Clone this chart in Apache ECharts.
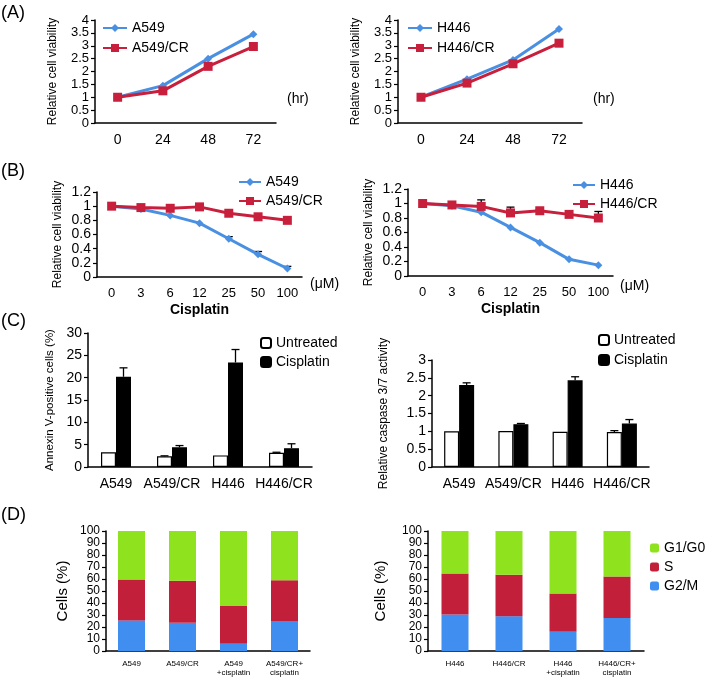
<!DOCTYPE html>
<html>
<head>
<meta charset="utf-8">
<script src="https://cdn.jsdelivr.net/npm/echarts@6/dist/echarts.min.js"></script>
<style>
  html, body { margin: 0; padding: 0; background: #fff; }
  #myChart { width: 709px; height: 677px; }
</style>
</head>
<body>
<div id="myChart"></div>
<script>
// ---- data ----
let hours = ['0', '24', '48', '72']
let a549Growth = [1, 1.45, 2.5, 3.45]
let a549CrGrowth = [1, 1.25, 2.2, 2.97]
let h446Growth = [1, 1.7, 2.45, 3.65]
let h446CrGrowth = [1, 1.55, 2.3, 3.1]

let doses = ['0', '3', '6', '12', '25', '50', '100']
let a549Dose = [1, 0.96, 0.87, 0.76, 0.54, 0.32, 0.12]
let a549DoseErr = [null, null, null, null, 0.57, 0.36, 0.15]
let a549CrDose = [1, 0.98, 0.97, 0.99, 0.9, 0.85, 0.8]
let h446Dose = [1, 0.97, 0.88, 0.67, 0.46, 0.23, 0.15]
let h446CrDose = [1, 0.98, 0.96, 0.87, 0.9, 0.85, 0.8]
let h446CrDoseErr = [null, null, 1.05, 0.95, 0.92, null, 0.89]

let cellLines = ['A549', 'A549/CR', 'H446', 'H446/CR']
let annexinUntreated = [3.3, 2.4, 2.6, 3.2]
let annexinUntreatedErr = [null, 2.5, null, 3.3]
let annexinCisplatin = [20.2, 4.4, 23.4, 4.2]
let annexinCisplatinErr = [22.2, 4.8, 26.3, 5.2]
let caspUntreated = [1.0, 1.01, 0.99, 0.98]
let caspUntreatedErr = [null, null, null, 1.02]
let caspCisplatin = [2.3, 1.2, 2.43, 1.22]
let caspCisplatinErr = [2.36, 1.22, 2.53, 1.33]

let a549Groups = ['A549', 'A549/CR', 'A549\n+cisplatin', 'A549/CR+\ncisplatin']
let h446Groups = ['H446', 'H446/CR', 'H446\n+cisplatin', 'H446/CR+\ncisplatin']
let a549G2M = [25.5, 23.5, 6, 25]
let a549S = [34, 35, 31.5, 34]
let a549G1 = [40.5, 41.5, 62.5, 41]
let h446G2M = [30.5, 29, 16, 27.5]
let h446S = [34, 34.5, 32, 34.5]
let h446G1 = [35.5, 36.5, 52, 38]

// ---- styles ----
const FONT = 'Liberation Sans, Arial, sans-serif'
const BLUE = '#4a90e2'
const RED = '#c8203c'

let myChart = echarts.init(document.getElementById('myChart'))

function xCat(gi, data, fontSize, extra) {
    return Object.assign({
        type: 'category', gridIndex: gi, data: data,
        axisLine: { lineStyle: { color: '#000', width: 1.5 } },
        axisTick: { length: 4, lineStyle: { color: '#000', width: 1.2 } },
        axisLabel: { color: '#000', fontSize: fontSize, fontFamily: FONT, margin: 10, interval: 0 }
    }, extra || {})
}
function yVal(gi, max, interval, name, nameGap, nameSize, fontSize) {
    return {
        type: 'value', gridIndex: gi, min: 0, max: max, interval: interval,
        name: name, nameLocation: 'middle', nameGap: nameGap,
        nameTextStyle: { color: '#000', fontSize: nameSize, fontFamily: FONT },
        axisLine: { show: true, lineStyle: { color: '#000', width: 1.5 } },
        axisTick: { show: true, length: 4, lineStyle: { color: '#000', width: 1.2 } },
        axisLabel: {
            color: '#000', fontSize: fontSize, fontFamily: FONT, margin: 6,
            showMinLabel: true, showMaxLabel: true, hideOverlap: false
        },
        splitLine: { show: false }
    }
}
function lineSeries(name, gi, data, color, symbol, size) {
    return {
        name: name, type: 'line', xAxisIndex: gi, yAxisIndex: gi, data: data,
        symbol: symbol, symbolSize: size, color: color,
        lineStyle: { width: 3, color: color }, itemStyle: { color: color }, z: 3
    }
}
// 只画向上的误差线
function errSeries(gi, values, tops, offset) {
    let d = []
    tops.forEach((t, i) => { if (t != null) d.push([i, values[i], t]) })
    return {
        type: 'custom', xAxisIndex: gi, yAxisIndex: gi, data: d, z: 2,
        renderItem: function (params, api) {
            let p0 = api.coord([api.value(0), api.value(1)])
            let p1 = api.coord([api.value(0), api.value(2)])
            let cx = p0[0] + offset
            let st = { stroke: '#000', lineWidth: 1.3 }
            return {
                type: 'group', children: [
                    { type: 'line', shape: { x1: cx, y1: p0[1], x2: cx, y2: p1[1] }, style: st },
                    { type: 'line', shape: { x1: cx - 4, y1: p1[1], x2: cx + 4, y2: p1[1] }, style: st }
                ]
            }
        }
    }
}
function bar(name, gi, data, color, extra) {
    return Object.assign({
        name: name, type: 'bar', xAxisIndex: gi, yAxisIndex: gi, data: data,
        barWidth: 15, barGap: '0%',
        itemStyle: { color: color, borderColor: '#000', borderWidth: 1.2 }
    }, extra || {})
}
function stack(name, gi, data, color, st) {
    return {
        name: name, type: 'bar', xAxisIndex: gi, yAxisIndex: gi, data: data,
        stack: st, barWidth: 27, itemStyle: { color: color }
    }
}
function legend(left, top, names, w, h, gap, size) {
    return {
        left: left, top: top, orient: 'vertical', data: names, selectedMode: false,
        itemWidth: w, itemHeight: h, itemGap: gap,
        textStyle: { color: '#000', fontSize: size, fontFamily: FONT }
    }
}
function label(text, x, y, size, weight) {
    return { type: 'text', left: x, top: y, style: { text: text, fontSize: size, fontFamily: FONT, fontWeight: weight || 'normal', fill: '#000' } }
}

let option = {
    animation: false,
    grid: [
        { left: 95, top: 20, width: 181, height: 103 },
        { left: 398, top: 20, width: 184, height: 103 },
        { left: 97, top: 192, width: 205, height: 85 },
        { left: 408, top: 189, width: 205, height: 87 },
        { left: 88, top: 333, width: 224, height: 134 },
        { left: 432, top: 360, width: 217, height: 107 },
        { left: 106, top: 531, width: 204, height: 126 },
        { left: 428, top: 531, width: 216, height: 126 }
    ],
    xAxis: [
        xCat(0, hours, 14),
        xCat(1, hours, 14),
        xCat(2, doses, 13, { name: 'Cisplatin', nameLocation: 'middle', nameGap: 26, nameTextStyle: { fontSize: 14, fontWeight: 'bold', fontFamily: FONT, color: '#000' } }),
        xCat(3, doses, 13, { name: 'Cisplatin', nameLocation: 'middle', nameGap: 26, nameTextStyle: { fontSize: 14, fontWeight: 'bold', fontFamily: FONT, color: '#000' } }),
        xCat(4, cellLines, 14),
        xCat(5, cellLines, 14),
        xCat(6, a549Groups, 8, { axisLabel: { color: '#000', fontSize: 8, fontFamily: FONT, margin: 8, interval: 0, lineHeight: 9 } }),
        xCat(7, h446Groups, 8, { axisLabel: { color: '#000', fontSize: 8, fontFamily: FONT, margin: 8, interval: 0, lineHeight: 9 } })
    ],
    yAxis: [
        yVal(0, 4, 0.5, 'Relative cell viability', 36, 12, 13),
        yVal(1, 4, 0.5, 'Relative cell viability', 36, 12, 13),
        yVal(2, 1.2, 0.2, 'Relative cell viability', 33, 12, 14),
        yVal(3, 1.2, 0.2, 'Relative cell viability', 33, 12, 14),
        yVal(4, 30, 5, 'Annexin V-positive cells (%)', 32, 11.5, 14),
        yVal(5, 3, 0.5, 'Relative caspase 3/7 activity', 42, 12, 14),
        yVal(6, 100, 10, 'Cells (%)', 36, 15, 12),
        yVal(7, 100, 10, 'Cells (%)', 40, 15, 12)
    ],
    legend: [
        legend(97, 16, ['A549', 'A549/CR'], 24, 10, 6, 14),
        legend(402, 16, ['H446', 'H446/CR'], 24, 10, 6, 14),
        legend(233, 170, ['A549', 'A549/CR'], 22, 10, 5, 14),
        legend(567, 173, ['H446', 'H446/CR'], 22, 10, 5, 14),
        legend(255, 331, ['Untreated', 'Cisplatin'], 10, 10, 5, 14),
        legend(593, 328, ['Untreated', 'Cisplatin'], 10, 10, 6, 14),
        legend(645, 536, ['G1/G0', 'S', 'G2/M'], 9, 9, 5, 14)
    ],
    graphic: [
        label('(A)', 1, 4, 18),
        label('(B)', 1, 162, 18),
        label('(C)', 1, 312, 18),
        label('(D)', 1, 506, 18),
        label('(hr)', 287, 92, 14),
        label('(hr)', 593, 92, 14),
        label('(\u03bcM)', 310, 277, 14),
        label('(\u03bcM)', 620, 279, 14)
    ],
    series: [
        lineSeries('A549', 0, a549Growth, BLUE, 'diamond', 8),
        lineSeries('A549/CR', 0, a549CrGrowth, RED, 'rect', 9),
        lineSeries('H446', 1, h446Growth, BLUE, 'diamond', 8),
        lineSeries('H446/CR', 1, h446CrGrowth, RED, 'rect', 9),

        errSeries(2, a549Dose, a549DoseErr, 0),
        lineSeries('A549', 2, a549Dose, BLUE, 'diamond', 8),
        lineSeries('A549/CR', 2, a549CrDose, RED, 'rect', 9),
        errSeries(3, h446CrDose, h446CrDoseErr, 0),
        lineSeries('H446', 3, h446Dose, BLUE, 'diamond', 8),
        lineSeries('H446/CR', 3, h446CrDose, RED, 'rect', 9),

        bar('Untreated', 4, annexinUntreated, '#fff'),
        bar('Cisplatin', 4, annexinCisplatin, '#000'),
        errSeries(4, annexinUntreated, annexinUntreatedErr, -7.5),
        errSeries(4, annexinCisplatin, annexinCisplatinErr, 7.5),
        bar('Untreated', 5, caspUntreated, '#fff'),
        bar('Cisplatin', 5, caspCisplatin, '#000'),
        errSeries(5, caspUntreated, caspUntreatedErr, -7.5),
        errSeries(5, caspCisplatin, caspCisplatinErr, 7.5),

        stack('G2/M', 6, a549G2M, '#3f8ef0', 'L'),
        stack('S', 6, a549S, '#c21f3a', 'L'),
        stack('G1/G0', 6, a549G1, '#8ee21e', 'L'),
        stack('G2/M', 7, h446G2M, '#3f8ef0', 'R'),
        stack('S', 7, h446S, '#c21f3a', 'R'),
        stack('G1/G0', 7, h446G1, '#8ee21e', 'R')
    ]
}
myChart.setOption(option)
</script>
</body>
</html>
